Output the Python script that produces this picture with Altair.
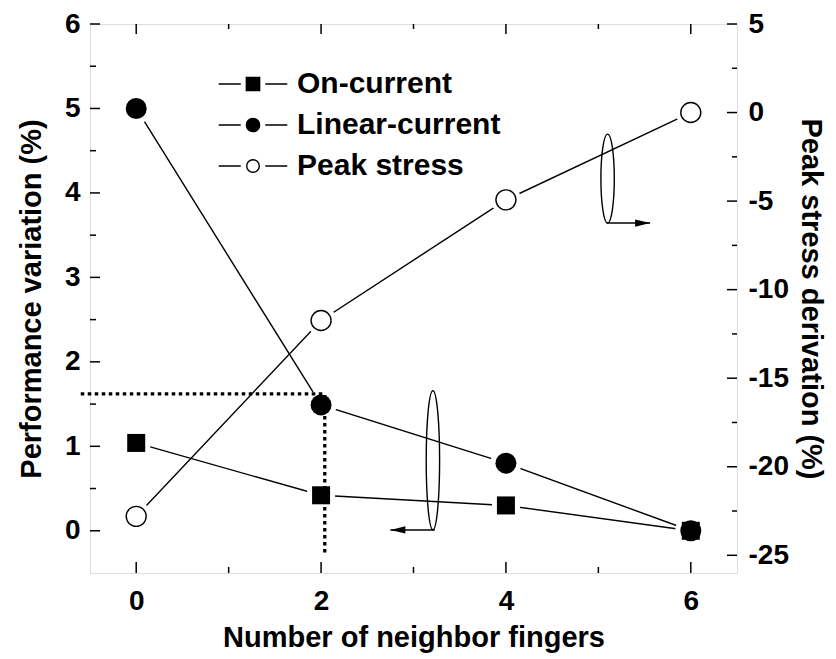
import altair as alt
import pandas as pd

# ---- values ----
fingers = [0, 2, 4, 6]
on_current = [1.04, 0.42, 0.30, 0.0]
linear_current = [5.0, 1.49, 0.80, 0.0]
peak_stress = [-22.8, -11.74, -4.93, 0.0]

series_names = ["On-current", "Linear-current", "Peak stress"]

x_major = [0, 2, 4, 6]
x_minor = [1, 3, 5]
left_major = [0, 1, 2, 3, 4, 5, 6]
left_minor = [0.5, 1.5, 2.5, 3.5, 4.5, 5.5]
right_major = [-25, -20, -15, -10, -5, 0, 5]
right_minor = [-22.5, -17.5, -12.5, -7.5, -2.5, 2.5]

# dotted guide read-out at two neighbor fingers
guide_x = [-0.6, 2.04, 2.04]
guide_y = [1.62, 1.62, -0.28]

# bracket ellipses with arrows pointing to the axis they belong to
left_ellipse_x, left_ellipse_y = [3.21], [0.835]
left_arrow_x, left_arrow_y = [3.23, 2.75], [0.01, 0.01]
right_ellipse_x, right_ellipse_y = [5.10], [-3.73]
right_arrow_x, right_arrow_y = [5.09, 5.56], [-6.24, -6.24]

FONT = "Liberation Sans"
W, H = 647, 549

# ---- tables ----
left_df = pd.DataFrame({
    "x": fingers * 2,
    "y": on_current + linear_current,
    "series": ["On-current"] * 4 + ["Linear-current"] * 4,
})
on_df = left_df[left_df.series == "On-current"]
lin_df = left_df[left_df.series == "Linear-current"]
peak_df = pd.DataFrame({"x": fingers, "y": peak_stress, "series": "Peak stress"})
guide_df = pd.DataFrame({"x": guide_x, "y": guide_y, "order": [0, 1, 2]})

x_scale = alt.Scale(domain=[-0.5, 6.5], nice=False, zero=False)
yl_scale = alt.Scale(domain=[-0.5, 6], nice=False, zero=False)
yr_scale = alt.Scale(domain=[-26, 5], nice=False, zero=False)

x_axis = alt.Axis(
    values=x_major, ticks=False, domain=False, grid=False,
    labelFont=FONT, labelFontSize=28, labelFontWeight="bold", labelColor="black",
    labelPadding=14, labelExpr="'' + datum.value",
    title="Number of neighbor fingers", titleFont=FONT, titleFontSize=29,
    titleFontWeight="bold", titleColor="black", titlePadding=8,
)
yl_axis = alt.Axis(
    orient="left", values=left_major, ticks=False, domain=False, grid=False,
    labelFont=FONT, labelFontSize=28, labelFontWeight="bold", labelColor="black",
    labelPadding=10, labelExpr="'' + datum.value",
    title="Performance variation (%)", titleFont=FONT, titleFontSize=29,
    titleFontWeight="bold", titleColor="black", titlePadding=18,
)
yr_axis = alt.Axis(
    orient="right", values=right_major, ticks=False, domain=False, grid=False,
    labelFont=FONT, labelFontSize=28, labelFontWeight="bold", labelColor="black",
    labelPadding=11, labelExpr="'' + datum.value",
    title="Peak stress derivation (%)", titleFont=FONT, titleFontSize=29,
    titleFontWeight="bold", titleColor="black", titlePadding=7,
)

X = alt.X("x:Q", scale=x_scale, axis=x_axis)
YL = alt.Y("y:Q", scale=yl_scale, axis=yl_axis)
YR = alt.Y("y:Q", scale=yr_scale, axis=yr_axis)

LW = 1.4


def circle_path(r, cx=0.0):
    k = 0.5523 * r
    return (f"M{cx + r},0 C{cx + r},{k} {cx + k},{r} {cx},{r} "
            f"C{cx - k},{r} {cx - r},{k} {cx - r},0 "
            f"C{cx - r},{-k} {cx - k},{-r} {cx},{-r} "
            f"C{cx + k},{-r} {cx + r},{-k} {cx + r},0 Z")


def ellipse_path(rx, ry):
    kx, ky = 0.5523 * rx, 0.5523 * ry
    return (f"M{rx},0 C{rx},{ky} {kx},{ry} 0,{ry} "
            f"C{-kx},{ry} {-rx},{ky} {-rx},0 "
            f"C{-rx},{-ky} {-kx},{-ry} 0,{-ry} "
            f"C{kx},{-ry} {rx},{-ky} {rx},0 Z")


stubs = "M-4.9,0 L-1.75,0 M1.75,0 L4.9,0 "
legend_shapes = [
    stubs + "M-0.95,-0.95 L0.95,-0.95 L0.95,0.95 L-0.95,0.95 Z",
    stubs + circle_path(0.95),
    stubs + circle_path(0.9),
]

legend = alt.Legend(
    title=None, orient="none", legendX=148, legendY=45, padding=0,
    symbolSize=196, symbolStrokeColor="black", symbolStrokeWidth=LW,
    symbolOpacity=1,
    labelFont=FONT, labelFontSize=30, labelFontWeight="bold", labelColor="black",
    labelOffset=29, rowPadding=11, labelLimit=500,
)

# ---- left-axis group ----
left_lines = alt.Chart(left_df).mark_line(color="black", strokeWidth=LW).encode(
    x=X, y=YL, detail="series:N"
)
halo_sq = alt.Chart(on_df).mark_point(
    shape="square", filled=True, fill="white", stroke="white", strokeWidth=10, size=324, opacity=1
).encode(x=X, y=YL)
halo_ci = alt.Chart(lin_df).mark_point(
    shape="circle", filled=True, fill="white", stroke="white", strokeWidth=10, size=441, opacity=1
).encode(x=X, y=YL)
guide = alt.Chart(guide_df).mark_line(
    color="black", strokeWidth=3.3, strokeDash=[3.5, 3.5], strokeCap="butt"
).encode(x=X, y=YL, order="order:Q")
on_pts = alt.Chart(on_df).mark_point(
    shape="square", filled=True, color="black", size=324, opacity=1
).encode(x=X, y=YL)
lin_pts = alt.Chart(lin_df).mark_point(
    shape="circle", filled=True, color="black", size=441, opacity=1
).encode(x=X, y=YL)
legend_layer = alt.Chart(left_df).transform_filter("false").mark_point(
    filled=True, strokeWidth=LW, opacity=1
).encode(
    x=X, y=YL,
    shape=alt.Shape("series:N", scale=alt.Scale(domain=series_names, range=legend_shapes), legend=legend),
    fill=alt.Fill("series:N", scale=alt.Scale(domain=series_names, range=["black", "black", "white"]), legend=legend),
    stroke=alt.Stroke("series:N", scale=alt.Scale(domain=series_names, range=["black", "black", "black"]), legend=legend),
)
left_ell = alt.Chart(pd.DataFrame({"x": left_ellipse_x, "y": left_ellipse_y})).mark_point(
    shape=ellipse_path(6.7 / 69.5, 1.0), size=139 ** 2, filled=False, color="black",
    strokeWidth=LW, opacity=1
).encode(x=X, y=YL)
left_arrow_line = alt.Chart(pd.DataFrame({"x": left_arrow_x, "y": left_arrow_y})).mark_line(
    color="black", strokeWidth=LW
).encode(x=X, y=YL)
left_arrow_head = alt.Chart(pd.DataFrame({"x": left_arrow_x[1:], "y": left_arrow_y[1:]})).mark_point(
    shape="M0,0 L2,-0.48 L2,0.48 Z", size=225, filled=True, color="black", opacity=1
).encode(x=X, y=YL)

# x-axis and left-axis inward ticks
xt_major = pd.DataFrame({"x": x_major})
xt_minor = pd.DataFrame({"x": x_minor})
ticks = [
    alt.Chart(xt_major).mark_rule(color="black", strokeWidth=1.5).encode(
        x=X, y=alt.value(H), y2=alt.value(H - 11)),
    alt.Chart(xt_minor).mark_rule(color="black", strokeWidth=1.5).encode(
        x=X, y=alt.value(H), y2=alt.value(H - 6)),
    alt.Chart(xt_major).mark_rule(color="black", strokeWidth=1.5).encode(
        x=X, y=alt.value(0), y2=alt.value(10)),
    alt.Chart(xt_minor).mark_rule(color="black", strokeWidth=1.5).encode(
        x=X, y=alt.value(0), y2=alt.value(5)),
    alt.Chart(pd.DataFrame({"y": left_major})).mark_rule(color="black", strokeWidth=1.5).encode(
        y=YL, x=alt.value(0), x2=alt.value(10)),
    alt.Chart(pd.DataFrame({"y": left_minor})).mark_rule(color="black", strokeWidth=1.5).encode(
        y=YL, x=alt.value(0), x2=alt.value(6)),
]

left_group = alt.layer(
    *ticks, left_lines, halo_sq, halo_ci, guide, on_pts, lin_pts,
    left_ell, left_arrow_line, left_arrow_head, legend_layer
)

# ---- right-axis group ----
peak_line = alt.Chart(peak_df).mark_line(color="black", strokeWidth=LW).encode(x=X, y=YR)
peak_halo = alt.Chart(peak_df).mark_point(
    shape="circle", filled=True, fill="white", stroke="white", strokeWidth=10, size=400, opacity=1
).encode(x=X, y=YR)
peak_pts = alt.Chart(peak_df).mark_point(
    shape="circle", filled=True, fill="white", stroke="black", strokeWidth=LW, size=400, opacity=1
).encode(x=X, y=YR)
right_ell = alt.Chart(pd.DataFrame({"x": right_ellipse_x, "y": right_ellipse_y})).mark_point(
    shape=ellipse_path(6.7 / 44.5, 1.0), size=89 ** 2, filled=False, color="black",
    strokeWidth=LW, opacity=1
).encode(x=X, y=YR)
right_arrow_line = alt.Chart(pd.DataFrame({"x": right_arrow_x, "y": right_arrow_y})).mark_line(
    color="black", strokeWidth=LW
).encode(x=X, y=YR)
right_arrow_head = alt.Chart(pd.DataFrame({"x": right_arrow_x[1:], "y": right_arrow_y[1:]})).mark_point(
    shape="M0,0 L-2,-0.48 L-2,0.48 Z", size=225, filled=True, color="black", opacity=1
).encode(x=X, y=YR)
right_ticks = [
    alt.Chart(pd.DataFrame({"y": right_major})).mark_rule(color="black", strokeWidth=1.5).encode(
        y=YR, x=alt.value(W), x2=alt.value(W - 10)),
    alt.Chart(pd.DataFrame({"y": right_minor})).mark_rule(color="black", strokeWidth=1.5).encode(
        y=YR, x=alt.value(W), x2=alt.value(W - 5)),
]

right_group = alt.layer(
    *right_ticks, peak_line, peak_halo, peak_pts, right_ell, right_arrow_line, right_arrow_head
)

chart = alt.layer(left_group, right_group).resolve_scale(y="independent").properties(
    width=W, height=H,
    autosize=alt.AutoSizeParams(type="none"),
    padding={"left": 90, "top": 24, "right": 99, "bottom": 86},
    background="white",
).configure_view(stroke="black", strokeWidth=2).configure(font=FONT)

chart.save("out.html", embed_options={"renderer": "svg", "actions": False})
